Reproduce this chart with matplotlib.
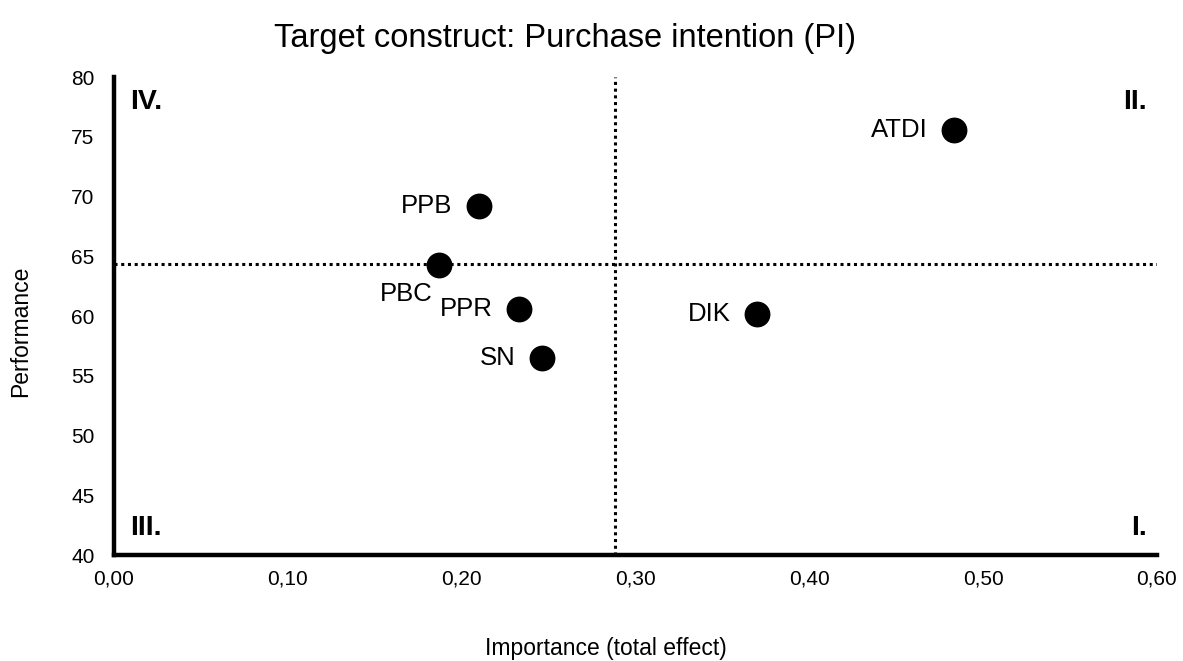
import matplotlib.pyplot as plt
import numpy as np
from matplotlib.ticker import FuncFormatter

plt.rcParams['font.family'] = ['Liberation Sans', 'DejaVu Sans']

labels = ["ATDI", "PPB", "PBC", "PPR", "SN", "DIK"]
importance = [0.483, 0.210, 0.187, 0.233, 0.246, 0.370]
performance = [75.6, 69.2, 64.3, 60.6, 56.5, 60.2]

# label offsets in points (text anchored at right/center)
offsets = {"PBC": (-5, -21)}

mean_x = np.mean(importance)
mean_y = np.mean(performance)

fig = plt.figure(figsize=(11.83, 6.61), dpi=100)
ax = fig.add_axes([0.0964, 0.160, 0.8816, 0.7235])

ax.axvline(mean_x, color="black", linestyle=(0, (1, 1.2)), linewidth=2.2, zorder=1)
ax.axhline(mean_y, color="black", linestyle=(0, (1, 1.2)), linewidth=2.2, zorder=1)
ax.scatter(importance, performance, s=310, color="black", zorder=3)

for lab, x, y in zip(labels, importance, performance):
    dx, dy = offsets.get(lab, (-19, 0))
    ax.annotate(lab, (x, y), xytext=(dx, dy), textcoords="offset points",
                ha="right", va="center", fontsize=18.5)

ax.set_xlim(0, 0.60)
ax.set_ylim(40, 80)
ax.set_xticks(np.arange(0, 0.61, 0.10))
ax.set_yticks(np.arange(40, 81, 5))
ax.xaxis.set_major_formatter(FuncFormatter(lambda v, p: f"{v:.2f}".replace(".", ",")))
ax.tick_params(length=0, labelsize=15)
ax.tick_params(axis="x", pad=10)
ax.tick_params(axis="y", pad=14)

for s in ["top", "right"]:
    ax.spines[s].set_visible(False)
for s in ["left", "bottom"]:
    ax.spines[s].set_linewidth(3.2)

quad = dict(fontsize=20.5, fontweight="bold", transform=ax.transAxes)
ax.text(0.015, 0.975, "IV.", ha="left", va="top", **quad)
ax.text(0.99, 0.975, "II.", ha="right", va="top", **quad)
ax.text(0.015, 0.03, "III.", ha="left", va="bottom", **quad)
ax.text(0.99, 0.03, "I.", ha="right", va="bottom", **quad)

fig.text(606 / 1183, 1 - 648 / 661, "Importance (total effect)",
         fontsize=16.5, ha="center", va="center")
fig.text(21 / 1183, 1 - 331 / 661, "Performance", rotation=90,
         fontsize=16.5, ha="center", va="center")
fig.text(0.478, 0.9425, "Target construct: Purchase intention (PI)",
         fontsize=23.5, ha="center", va="center")

fig.savefig("out.png", dpi=100)
